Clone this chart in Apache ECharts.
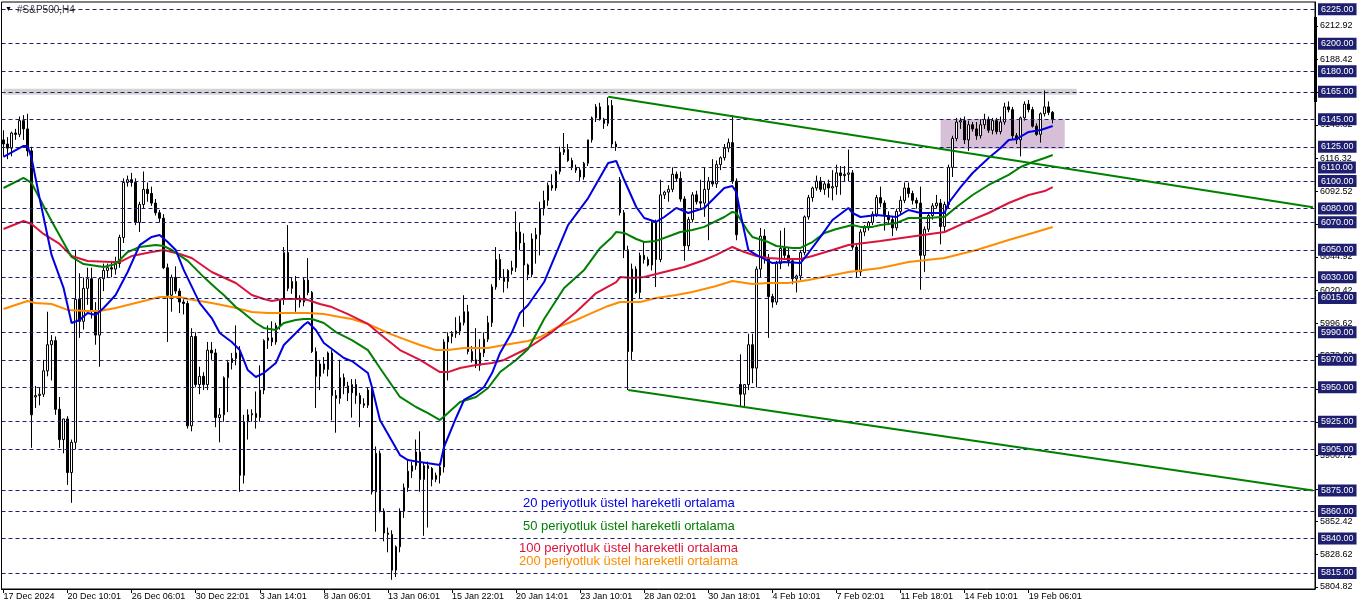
<!DOCTYPE html>
<html><head><meta charset="utf-8">
<script src="https://cdn.jsdelivr.net/npm/echarts@6/dist/echarts.min.js"></script>
<style>html,body{margin:0;padding:0;background:#fff}#c{width:1362px;height:611px}</style>
</head><body><div id="c"></div>
<script>
const opens = [
6130,6127,6124,6135,6134,6144,6138,6122,5943,5944,
5945,5962,5981,5984,5934,5912,5927,5888,5910,6014,
5998,6022,6029,6006,5988,6029,6035,6037,6036,6040,
6059,6099,6101,6099,6070,6083,6094,6091,6084,6077,
6073,6037,6017,6030,6020,6012,6011,5922,5987,5952,
5958,5952,5977,5975,5928,5930,5957,5968,5971,5975,
5886,5925,5930,5931,5928,5948,5984,5986,5983,5995,
6014,6048,6022,6027,6015,6012,6028,6019,5976,5958,
5967,5963,5975,5944,5942,5957,5951,5946,5952,5944,
5938,5937,5948,5874,5902,5860,5844,5843,5817,5834,
5860,5877,5889,5893,5903,5883,5893,5891,5883,5886,
5892,5983,5987,5989,5991,5997,6005,5976,5970,5966,
5975,5985,5997,6023,6043,6030,6027,6035,6037,6063,
6055,6039,6032,6058,6061,6080,6086,6097,6095,6107,
6121,6123,6115,6110,6108,6103,6113,6130,6146,6154,
6145,6142,6155,6127,6101,6077,6050,5976,6036,6019,
6046,6043,6039,6070,6043,6090,6092,6094,6105,6102,
6087,6053,6072,6090,6085,6084,6094,6100,6098,6112,
6117,6124,6128,6100,5952,5945,5952,5981,5964,6036,
6060,6044,6016,6012,6040,6051,6046,6042,6029,6031,
6048,6074,6088,6095,6100,6094,6098,6095,6096,6106,
6104,6105,6106,6052,6034,6063,6066,6070,6076,6088,
6084,6075,6072,6066,6078,6086,6095,6091,6086,6084,
6046,6065,6075,6082,6084,6067,6083,6110,6131,6143,
6144,6130,6141,6138,6133,6141,6145,6137,6144,6136,
6143,6154,6152,6133,6130,6146,6156,6152,6140,6134,
6149,6154,6150];
const highs = [
6137,6132,6136,6138,6147,6148,6149,6125,5951,5950,
5970,6005,5988,5987,5943,5927,5929,5912,6050,6033,
6030,6037,6037,6012,6030,6040,6040,6042,6045,6061,
6102,6104,6106,6102,6085,6107,6099,6096,6087,6079,
6076,6040,6032,6038,6022,6014,6013,5993,5990,5965,
5961,5983,5983,5978,5935,5958,5970,5975,5995,5980,
5930,5934,5934,5947,5966,5985,5995,5998,5997,6014,
6052,6068,6030,6031,6017,6030,6044,6020,5979,5970,
5972,5976,5977,5948,5970,5960,5954,5956,5956,5946,
5942,5950,5950,5907,5904,5862,5848,5846,5835,5862,
5880,5897,5896,5912,5918,5895,5896,5892,5888,5895,
5985,5990,5991,6001,6002,6017,6010,5980,5993,5985,
5990,6002,6025,6052,6047,6036,6036,6042,6078,6070,
6062,6040,6062,6066,6085,6093,6099,6105,6108,6125,
6135,6127,6117,6112,6110,6114,6130,6147,6156,6157,
6146,6161,6159,6129,6103,6079,6053,6040,6038,6048,
6056,6045,6071,6072,6101,6093,6097,6110,6107,6107,
6089,6074,6092,6093,6101,6110,6103,6116,6115,6118,
6127,6131,6148,6102,5974,5952,5989,5989,6038,6066,
6065,6047,6018,6042,6064,6066,6052,6044,6032,6050,
6075,6090,6096,6104,6103,6100,6101,6108,6112,6111,
6111,6123,6108,6055,6065,6068,6071,6078,6090,6096,
6086,6078,6074,6080,6089,6099,6099,6093,6088,6096,
6067,6077,6084,6090,6087,6085,6112,6133,6146,6146,
6147,6144,6143,6143,6145,6149,6147,6146,6146,6147,
6157,6158,6154,6135,6147,6158,6159,6154,6142,6150,
6166,6158,6151];
const lows = [
6118,6116,6118,6130,6132,6130,6118,5906,5935,5937,
5943,5958,5955,5930,5906,5902,5879,5866,5905,5986,
5992,6010,6000,5981,5965,6020,6030,6030,6032,6037,
6055,6096,6096,6068,6063,6080,6085,6082,6075,6070,
6036,5983,6005,6018,6004,6003,5920,5918,5950,5945,
5948,5948,5970,5921,5910,5925,5932,5963,5966,5874,
5880,5912,5925,5920,5925,5945,5978,5980,5981,5992,
6010,6020,6018,6005,6008,6009,6017,5975,5935,5948,
5960,5958,5926,5917,5938,5945,5940,5928,5938,5921,
5935,5935,5872,5845,5859,5838,5830,5810,5812,5830,
5855,5874,5884,5890,5874,5842,5848,5878,5881,5880,
5888,5955,5982,5986,5988,5995,5974,5968,5964,5962,
5972,5983,5994,6021,6028,6019,6022,6032,6034,6050,
5994,6028,6030,6040,6046,6075,6082,6093,6093,6105,
6119,6114,6108,6106,6100,6101,6111,6128,6143,6144,
6138,6140,6124,6122,6075,6044,5948,5970,6018,6015,
6040,6038,6035,6023,6041,6087,6085,6092,6100,6085,
6042,6050,6070,6083,6080,6074,6057,6096,6095,6108,
6115,6121,6098,6057,5936,5935,5948,5953,5950,6030,
6040,5986,6008,6010,6036,6043,6038,6025,6019,6028,
6046,6072,6085,6093,6092,6090,6088,6086,6090,6090,
6100,6100,6050,6030,6031,6060,6064,6068,6074,6081,
6064,6068,6060,6064,6076,6084,6088,6083,6080,6021,
6034,6063,6072,6080,6054,6063,6080,6103,6129,6138,
6127,6122,6136,6130,6131,6138,6135,6134,6134,6134,
6141,6150,6130,6127,6118,6144,6150,6139,6133,6128,
6147,6148,6142];
const closes = [
6127,6124,6135,6134,6144,6138,6122,5930,5944,5945,
5962,5981,5984,5934,5912,5927,5888,5910,6014,5998,
6022,6029,6006,5988,6029,6035,6037,6036,6040,6059,
6099,6101,6099,6070,6083,6094,6091,6084,6077,6073,
6037,6017,6030,6020,6012,6011,5922,5987,5952,5958,
5952,5977,5975,5928,5930,5957,5968,5971,5975,5886,
5925,5930,5931,5928,5948,5984,5986,5983,5995,6014,
6048,6022,6027,6015,6012,6028,6019,5976,5958,5967,
5963,5975,5944,5942,5957,5951,5946,5952,5944,5938,
5937,5948,5874,5902,5860,5844,5843,5817,5834,5860,
5877,5889,5893,5903,5883,5893,5891,5883,5886,5892,
5983,5987,5989,5991,5997,6005,5976,5970,5966,5975,
5985,5997,6023,6043,6030,6027,6035,6037,6063,6055,
6039,6032,6058,6061,6080,6086,6097,6095,6107,6121,
6123,6115,6110,6108,6103,6113,6130,6146,6154,6145,
6142,6155,6127,6125,6077,6050,5976,6036,6019,6046,
6043,6039,6070,6043,6090,6092,6094,6105,6102,6087,
6053,6072,6090,6085,6084,6094,6100,6098,6112,6117,
6124,6128,6100,6061,5945,5952,5981,5964,6036,6060,
6044,6016,6012,6040,6051,6046,6042,6029,6031,6048,
6074,6088,6095,6100,6094,6098,6095,6096,6106,6104,
6105,6106,6052,6034,6063,6066,6070,6076,6088,6084,
6075,6072,6066,6078,6086,6095,6091,6086,6084,6046,
6065,6075,6082,6084,6067,6083,6110,6131,6143,6144,
6130,6141,6138,6133,6141,6145,6137,6144,6136,6143,
6154,6152,6133,6130,6146,6156,6152,6140,6134,6149,
6154,6150,6145];

// EMA readings [bar index, price]
const ema20 = [[0,6117.6],[5,6125.6],[6,6125.6],[7,6116.8],[9,6087.7],[12,6046.3],[15,6022.3],[17,5996.8],[19,5999.0],[21,6004.1],[23,6002.6],[25,6007.7],[28,6017.2],[31,6033.9],[34,6053.5],[37,6059.4],[39,6060.8],[41,6055.7],[43,6049.9],[45,6035.4],[49,6011.3],[52,6000.4],[54,5989.5],[57,5983.0],[59,5977.1],[61,5962.6],[63,5957.5],[65,5960.4],[68,5967.7],[70,5980.8],[73,5989.5],[75,5995.3],[76,5997.5],[78,5991.7],[80,5982.2],[83,5975.7],[85,5971.3],[87,5969.1],[91,5960.4],[92,5950.2],[94,5926.2],[99,5900.7],[101,5897.1],[104,5895.6],[109,5893.5],[110,5906.6],[113,5927.7],[115,5940.8],[118,5945.8],[120,5950.2],[122,5960.4],[124,5975.0],[127,5990.2],[129,6004.1],[131,6009.9],[135,6026.6],[141,6068.1],[146,6087.7],[150,6108.1],[151,6113.2],[153,6114.7],[155,6100.8],[158,6081.2],[160,6073.2],[163,6070.3],[165,6073.9],[168,6080.5],[171,6076.8],[175,6080.5],[177,6086.3],[180,6095.0],[182,6096.5],[183,6092.1],[184,6076.8],[186,6049.9],[188,6046.3],[192,6040.4],[195,6041.1],[199,6040.4],[201,6047.7],[204,6059.4],[207,6071.7],[211,6080.5],[212,6076.8],[214,6073.9],[218,6075.4],[223,6073.9],[226,6079.0],[229,6076.8],[235,6076.8],[236,6084.1],[239,6095.7],[242,6105.9],[246,6116.8],[249,6124.1],[251,6129.9],[253,6130.7],[256,6135.8],[259,6137.2],[262,6140.1]];
const ema50 = [[0,6095.0],[5,6102.3],[7,6098.7],[10,6081.9],[12,6071.0],[17,6044.8],[20,6039.7],[25,6037.5],[28,6039.7],[31,6048.4],[34,6052.1],[38,6053.5],[40,6052.8],[42,6049.9],[46,6042.0],[50,6030.2],[53,6022.3],[55,6017.2],[58,6008.4],[60,6004.1],[63,5996.8],[65,5993.2],[68,5991.7],[70,5996.8],[73,5999.0],[75,5999.7],[77,5999.7],[80,5996.8],[83,5990.2],[87,5984.4],[91,5977.1],[94,5964.1],[99,5943.0],[103,5935.7],[106,5931.3],[109,5926.2],[111,5931.3],[114,5939.3],[118,5943.0],[121,5949.5],[124,5961.1],[128,5969.9],[131,5977.9],[135,5999.7],[140,6022.3],[145,6035.4],[149,6051.4],[152,6059.4],[153,6063.0],[155,6062.3],[158,6057.9],[160,6055.7],[163,6056.5],[167,6060.8],[169,6063.0],[172,6064.5],[175,6066.7],[177,6069.6],[180,6073.9],[182,6077.6],[183,6076.8],[186,6063.0],[187,6059.4],[191,6055.7],[193,6052.8],[197,6051.4],[199,6051.4],[202,6055.7],[205,6062.3],[208,6065.2],[212,6068.1],[214,6066.7],[217,6066.7],[219,6068.1],[223,6069.6],[226,6073.2],[231,6073.2],[235,6074.0],[238,6081.2],[242,6089.9],[246,6097.2],[251,6104.5],[254,6110.3],[257,6113.9],[260,6116.8],[262,6119.0]];
const ema100 = [[0,6065.2],[5,6071.0],[7,6068.8],[10,6061.6],[14,6054.3],[17,6045.5],[21,6041.9],[27,6041.1],[29,6041.1],[32,6045.5],[37,6048.4],[40,6049.9],[44,6047.0],[47,6044.1],[52,6033.9],[58,6025.9],[62,6017.2],[65,6014.3],[67,6012.8],[70,6014.3],[74,6014.3],[76,6013.5],[79,6010.6],[82,6008.4],[86,6003.3],[91,5996.1],[94,5988.8],[99,5977.1],[104,5969.9],[109,5961.1],[111,5961.1],[114,5964.1],[118,5966.2],[122,5967.7],[125,5969.9],[129,5975.7],[131,5978.6],[137,5990.2],[143,6004.8],[148,6018.6],[153,6026.6],[154,6030.2],[157,6029.5],[160,6030.2],[163,6032.4],[167,6035.4],[170,6037.5],[175,6042.6],[178,6046.3],[182,6052.1],[185,6048.4],[188,6045.5],[191,6044.1],[195,6043.3],[199,6043.3],[202,6045.5],[207,6049.9],[211,6053.5],[215,6055.0],[219,6056.5],[226,6059.4],[235,6063.0],[240,6069.6],[246,6076.8],[251,6084.1],[256,6089.9],[260,6092.8],[262,6095.7]];
const ema200 = [[0,6007.0],[6,6012.8],[8,6011.4],[12,6010.6],[16,6006.3],[21,6005.5],[24,6005.5],[28,6007.7],[34,6012.1],[39,6015.7],[44,6015.7],[46,6014.3],[52,6011.4],[57,6008.4],[62,6004.8],[66,6004.1],[70,6004.1],[76,6004.1],[80,6003.3],[84,6001.2],[87,5999.7],[91,5996.1],[96,5989.5],[100,5985.1],[104,5980.8],[108,5977.1],[111,5977.1],[115,5978.6],[121,5978.6],[125,5980.8],[131,5983.7],[134,5986.6],[138,5993.2],[143,5999.0],[147,6004.1],[151,6009.2],[154,6012.1],[159,6012.1],[163,6015.0],[168,6017.2],[172,6019.4],[175,6021.5],[178,6023.7],[182,6027.3],[187,6025.1],[191,6025.9],[196,6025.9],[201,6028.1],[206,6031.0],[211,6033.9],[215,6035.4],[219,6036.8],[226,6041.1],[235,6044.1],[243,6049.9],[251,6057.2],[257,6062.3],[262,6066.6]];

const timeLabels = ['17 Dec 2024','20 Dec 10:01','26 Dec 06:01','30 Dec 22:01','3 Jan 14:01','8 Jan 06:01','13 Jan 06:01','15 Jan 22:01','20 Jan 14:01','23 Jan 10:01','28 Jan 02:01','30 Jan 18:01','4 Feb 10:01','7 Feb 02:01','11 Feb 18:01','14 Feb 10:01','19 Feb 06:01'];
const levelPrices = [6225,6200,6180,6165,6145,6125,6110,6100,6080,6070,6050,6030,6015,5990,5970,5950,5925,5905,5875,5860,5840,5815];
const scaleLabels = [6212.92,6188.42,6164.62,6140.82,6116.32,6092.52,6068.72,6044.92,6020.42,5996.62,5972.82,5948.32,5924.52,5900.72,5876.22,5852.42,5828.62,5804.82];
const upperTrend = [[151,6161.4],[327,6081.0]];
const lowerTrend = [[156,5948.1],[327,5875.0]];
const greyLevel = [[0,6165],[268,6165]];
const boxCorners = [[234,6145],[265,6123.6]];
const emaTexts = ['20 periyotluk üstel hareketli ortalama','50 periyotluk üstel hareketli ortalama','100 periyotluk üstel hareketli ortalama','200 periyotluk üstel hareketli ortalama'];

const nCats = 328;
const cats = [];
for (let i = 0; i < nCats; i++) cats.push(i % 16 === 0 && timeLabels[i / 16] ? timeLabels[i / 16] : '');
const candleData = opens.map((o, i) => [o, closes[i], lows[i], highs[i]]);

const FONT = 'Liberation Sans';
const NAVY = '#1f1f70';
const chart = echarts.init(document.getElementById('c'), null, {renderer: 'canvas'});
const lineS = (name, data, color, width, z) => ({
  name, type: 'line', data, symbol: 'none', silent: true, clip: true, z,
  lineStyle: {color, width}, itemStyle: {color}, animation: false
});
chart.setOption({
  animation: false,
  backgroundColor: '#fff',
  grid: {left: 1.5, right: 47, top: 2, bottom: 22, show: true, borderColor: '#000', borderWidth: 1, containLabel: false},
  xAxis: {
    type: 'category', data: cats, boundaryGap: true,
    axisLine: {show: true, lineStyle: {color: '#000'}},
    axisTick: {show: true, length: 4, alignWithLabel: true, interval: (i) => i % 16 === 0 && i <= 256, lineStyle: {color: '#000'}},
    axisLabel: {interval: (i) => i % 16 === 0 && i <= 256, align: 'left', margin: 3, color: '#000', fontSize: 9, fontFamily: FONT},
    splitLine: {show: false}
  },
  yAxis: {
    type: 'value', position: 'right', min: 5803.3, max: 6230.3, scale: true,
    splitLine: {show: false},
    axisLine: {show: true, lineStyle: {color: '#000'}},
    axisTick: {show: true, length: 3, customValues: scaleLabels, lineStyle: {color: '#000'}},
    axisLabel: {customValues: scaleLabels, formatter: (v) => Number(v).toFixed(2), color: '#000', fontSize: 9, fontFamily: FONT, margin: 5}
  },
  series: [
    lineS('grey', greyLevel, '#d3d3d3', 6, 1),
    {
      name: 'box', type: 'line', data: [], z: 1, silent: true,
      markArea: {silent: true, itemStyle: {color: '#d8bfd8'},
        data: [[{xAxis: boxCorners[0][0], yAxis: boxCorners[0][1]}, {xAxis: boxCorners[1][0], yAxis: boxCorners[1][1]}]]}
    },
    {
      name: 'levels', type: 'line', data: [], z: 2, silent: true,
      markLine: {
        silent: true, symbol: ['none', 'none'], animation: false,
        lineStyle: {color: NAVY, type: [4, 3], width: 1},
        label: {show: true, position: 'end', distance: 3, formatter: (p) => Number(p.value).toFixed(2),
          backgroundColor: NAVY, color: '#fff', fontSize: 9, fontFamily: FONT, padding: [2, 3, 1, 3]},
        data: levelPrices.map(v => ({yAxis: v}))
      }
    },
    {
      name: 'price', type: 'candlestick', data: candleData, barWidth: 2, z: 3, silent: true,
      itemStyle: {color: '#ffffff', color0: '#000000', borderColor: '#000000', borderColor0: '#000000', borderWidth: 1}
    },
    lineS('EMA200', ema200, '#ff8c00', 2, 4),
    lineS('EMA100', ema100, '#dc143c', 2, 4),
    lineS('EMA50', ema50, '#008000', 2, 4),
    lineS('EMA20', ema20, '#0000e0', 2, 4),
    lineS('upper', upperTrend, '#008000', 2, 5),
    lineS('lower', lowerTrend, '#008000', 2, 5)
  ],
  graphic: [
    {type: 'text', left: 5, top: 6, style: {text: '▼', fill: '#000', font: '7px ' + FONT}},
    {type: 'text', left: 17, top: 5, style: {text: '#S&P500,H4', fill: '#333', font: '10px ' + FONT}},
    {type: 'rect', shape: {x: 1314, y: 17, width: 3, height: 85}, style: {fill: '#000'}},
    {type: 'text', left: 523, top: 497, style: {text: emaTexts[0], fill: '#0000e0', font: '13px ' + FONT}},
    {type: 'text', left: 523, top: 520, style: {text: emaTexts[1], fill: '#008000', font: '13px ' + FONT}},
    {type: 'text', left: 519, top: 542, style: {text: emaTexts[2], fill: '#dc143c', font: '13px ' + FONT}},
    {type: 'text', left: 519, top: 555, style: {text: emaTexts[3], fill: '#ff8c00', font: '13px ' + FONT}}
  ]
});
</script></body></html>
